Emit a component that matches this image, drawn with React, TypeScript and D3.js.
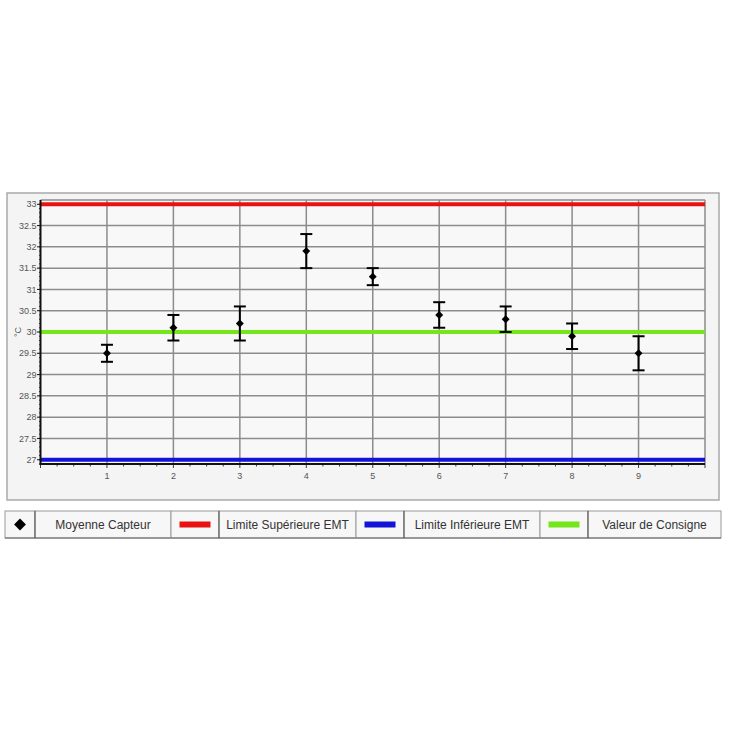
import React from 'react';
import * as d3 from 'd3';

// sensor readings (°C)
const positions = [1, 2, 3, 4, 5, 6, 7, 8, 9];
const means = [29.5, 30.1, 30.2, 31.9, 31.3, 30.4, 30.3, 29.9, 29.5];
const lows = [29.3, 29.8, 29.8, 31.5, 31.1, 30.1, 30.0, 29.6, 29.1];
const highs = [29.7, 30.4, 30.6, 32.3, 31.5, 30.7, 30.6, 30.2, 29.9];

const upperLimit = 33;
const lowerLimit = 27;
const setpoint = 30;

const yTicks = [27, 27.5, 28, 28.5, 29, 29.5, 30, 30.5, 31, 31.5, 32, 32.5, 33];
const xTicks = [1, 2, 3, 4, 5, 6, 7, 8, 9];

const legendLabels = ['Moyenne Capteur', 'Limite Supérieure EMT', 'Limite Inférieure EMT', 'Valeur de Consigne'];
const legendColors = ['#000000', '#e81212', '#1414d8', '#74e61a'];

const FONT = '"Liberation Sans", Arial, sans-serif';

const App: React.FC = () => {
  const W = 730;
  const H = 730;
  const plot = { left: 40.5, right: 705, top: 200, bottom: 464 };

  const x = d3.scaleLinear().domain([0, 10]).range([plot.left, plot.right]);
  const y = d3.scaleLinear().domain([26.9, 33.1]).range([plot.bottom, plot.top]);

  const minorX = d3.range(0, 10.001, 0.25);
  const minorY = d3.range(27, 33.001, 0.1);

  const diamond = d3.symbol().type(d3.symbolDiamond2).size(40)() || '';

  // legend cell edges: swatch cell + label cell per item
  const legendCells = [
    [5, 35, 171],
    [171, 219, 356],
    [356, 404, 540],
    [540, 588, 721],
  ];
  const legTop = 511;
  const legBottom = 538;

  return (
    <svg width={W} height={H} style={{ position: 'absolute', left: 0, top: 0, display: 'block' }}>
      <rect x={0} y={0} width={W} height={H} fill="#ffffff" />

      {/* panel */}
      <rect x={7} y={193} width={712} height={307} fill="#f4f4f4" stroke="#a9a9a9" strokeWidth={1.5} />
      <rect x={plot.left} y={plot.top} width={plot.right - plot.left} height={plot.bottom - plot.top} fill="#f8f8f8" />

      {/* grid */}
      <g stroke="#8c8c8c" strokeWidth={1.5}>
        {yTicks.filter(t => t > lowerLimit && t < upperLimit).map(t => (
          <line key={`gy${t}`} x1={plot.left} x2={plot.right} y1={y(t)} y2={y(t)} />
        ))}
        {xTicks.map(t => (
          <line key={`gx${t}`} x1={x(t)} x2={x(t)} y1={plot.top} y2={plot.bottom} />
        ))}
        <line x1={plot.left} x2={plot.right} y1={plot.top} y2={plot.top} />
        <line x1={plot.right} x2={plot.right} y1={plot.top} y2={plot.bottom} />
      </g>

      {/* reference lines */}
      <line x1={plot.left} x2={plot.right} y1={y(upperLimit)} y2={y(upperLimit)} stroke={legendColors[1]} strokeWidth={4} />
      <line x1={plot.left} x2={plot.right} y1={y(setpoint)} y2={y(setpoint)} stroke={legendColors[3]} strokeWidth={4} />
      <line x1={plot.left} x2={plot.right} y1={y(lowerLimit)} y2={y(lowerLimit)} stroke={legendColors[2]} strokeWidth={4} />

      {/* axes */}
      <g stroke="#111" strokeWidth={0.8}>
        {minorY.map((t, i) => (
          <line key={`my${i}`} x1={plot.left - 1.5} x2={plot.left} y1={y(t)} y2={y(t)} />
        ))}
        {minorX.map((t, i) => (
          <line key={`mx${i}`} x1={x(t)} x2={x(t)} y1={plot.bottom} y2={plot.bottom + (Number.isInteger(t) ? 4 : 2.5)} />
        ))}
        {yTicks.map(t => (
          <line key={`ty${t}`} x1={plot.left - 3.5} x2={plot.left} y1={y(t)} y2={y(t)} strokeWidth={1} />
        ))}
      </g>
      <line x1={plot.left} x2={plot.left} y1={plot.top} y2={plot.bottom + 1} stroke="#111" strokeWidth={2} />
      <line x1={plot.left - 1} x2={plot.right} y1={plot.bottom} y2={plot.bottom} stroke="#111" strokeWidth={2} />

      <g fontFamily={FONT} fontSize={9} fill="#555">
        {yTicks.map(t => (
          <text key={`ly${t}`} x={plot.left - 4} y={y(t)} dy="0.35em" textAnchor="end">{t}</text>
        ))}
        {xTicks.map(t => (
          <text key={`lx${t}`} x={x(t)} y={plot.bottom + 15} textAnchor="middle">{t}</text>
        ))}
        <text transform={`translate(${18},${y(30)}) rotate(-90)`} textAnchor="middle" dy="0.35em">°C</text>
      </g>

      {/* error bars */}
      <g stroke="#000" strokeWidth={2}>
        {positions.map((p, i) => (
          <g key={`e${p}`}>
            <line x1={x(p)} x2={x(p)} y1={y(lows[i])} y2={y(highs[i])} />
            <line x1={x(p) - 6} x2={x(p) + 6} y1={y(lows[i])} y2={y(lows[i])} />
            <line x1={x(p) - 6} x2={x(p) + 6} y1={y(highs[i])} y2={y(highs[i])} />
          </g>
        ))}
      </g>
      {positions.map((p, i) => (
        <path key={`m${p}`} d={diamond} transform={`translate(${x(p)},${y(means[i])})`} fill="#000" />
      ))}

      {/* legend */}
      <g fontFamily={FONT} fontSize={12} fill="#333">
        {legendCells.map(([a, b, c], i) => (
          <g key={`leg${i}`}>
            <rect x={a} y={legTop} width={b - a} height={legBottom - legTop} fill="#f7f7f7" stroke="#9a9a9a" strokeWidth={1} />
            <rect x={b} y={legTop} width={c - b} height={legBottom - legTop} fill="#f7f7f7" stroke="#9a9a9a" strokeWidth={1} />
            <line x1={a} x2={c} y1={legBottom} y2={legBottom} stroke="#666" strokeWidth={1.2} />
            <line x1={b} x2={b} y1={legTop} y2={legBottom} stroke="#555" strokeWidth={1} />
            {i === 0 ? (
              <path d={d3.symbol().type(d3.symbolDiamond2).size(90)() || ''} transform={`translate(${(a + b) / 2},${(legTop + legBottom) / 2})`} fill="#000" />
            ) : (
              <rect x={(a + b) / 2 - 15.5} y={(legTop + legBottom) / 2 - 3} width={31} height={6} fill={legendColors[i]} />
            )}
            <text x={(b + c) / 2} y={(legTop + legBottom) / 2} dy="0.35em" textAnchor="middle">{legendLabels[i]}</text>
          </g>
        ))}
      </g>
    </svg>
  );
};

export default App;
